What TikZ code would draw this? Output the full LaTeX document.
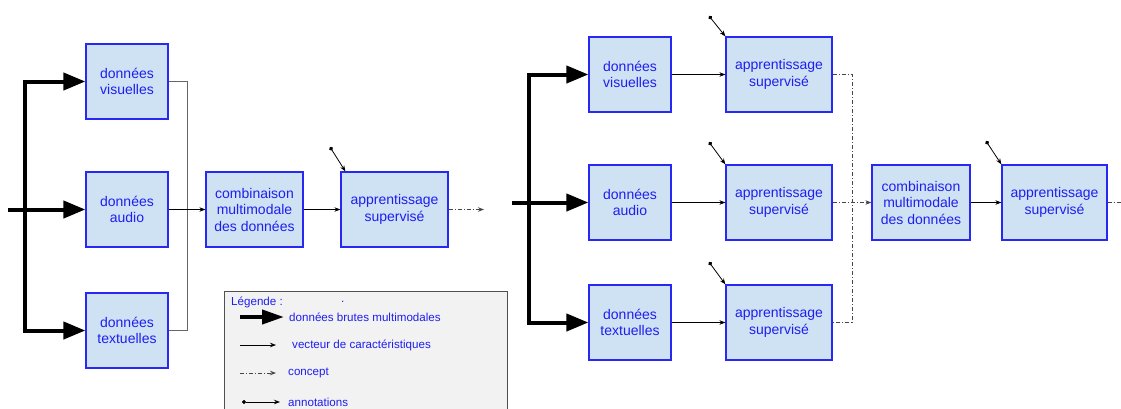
\documentclass[tikz,border=0pt]{standalone}
\usepackage{fontspec}
\setmainfont{Liberation Sans}
\usetikzlibrary{arrows.meta,calc}
\definecolor{boxfill}{RGB}{207,226,243}
\definecolor{boxline}{RGB}{40,40,245}
\definecolor{txtblue}{RGB}{30,30,240}
\definecolor{legfill}{RGB}{242,242,242}
\definecolor{legline}{RGB}{80,80,80}
\definecolor{conc}{RGB}{70,70,70}
\begin{document}
\begin{tikzpicture}[x=1pt,y=-1pt,
  blk/.style={draw=boxline,fill=boxfill,line width=1.2pt,text=txtblue,align=center,
    font=\fontsize{14}{16.5}\selectfont,minimum height=75pt,inner sep=0pt},
  big/.style={line width=4pt,-{Triangle[length=22pt,width=17pt]}},
  vec/.style={line width=0.7pt,-{Stealth[length=6pt,width=4.5pt]}},
  plain/.style={line width=0.9pt,draw=black!60},
  concept/.style={line width=0.9pt,draw=conc,dash pattern=on 4pt off 2pt on 1pt off 2pt},
  conceptarr/.style={concept,-{Stealth[length=6pt,width=4.5pt]}},
  annot/.style={line width=0.8pt,{Circle[length=4pt]}-{Stealth[length=6pt,width=4.5pt]}},
  leg/.style={anchor=west,text=txtblue,font=\fontsize{11.6}{13}\selectfont,inner sep=0pt}]
\useasboundingbox (0,0) rectangle (1121,408);

% ---------- left diagram ----------
\node[blk,minimum width=82pt] (LV) at (127,81.5) {données\\visuelles};
\node[blk,minimum width=82pt] (LA) at (127,209.5) {données\\audio};
\node[blk,minimum width=82pt] (LT) at (127,330.5) {données\\textuelles};
\node[blk,minimum width=97pt] (LC) at (254.5,209.5) {combinaison\\multimodale\\des données};
\node[blk,minimum width=107pt] (LS) at (394.5,209.5) {apprentissage\\supervisé};

\coordinate (inL) at (8,209.5);
\coordinate (jL) at (25,209.5);
\draw[big] (inL) -- (LA.west);
\draw[big] (jL) |- (LV.west);
\draw[big] (jL) |- (LT.west);

\coordinate (busL) at (187,81.5);
\draw[plain] (LV.east) -- (busL) |- (LT.east);
\draw[vec] (LA.east) -- (LC.west);
\draw[vec] (LC.east) -- (LS.west);
\coordinate (outL) at (484,209.5);
\draw[conceptarr] (LS.east) -- (outL);
\coordinate (aL) at (330,147);
\draw[annot] (aL) -- ($(LS.north west)+(5,0)$);

% ---------- right diagram ----------
\node[blk,minimum width=82pt] (RV) at (630,74.5) {données\\visuelles};
\node[blk,minimum width=82pt] (RA) at (630,202.5) {données\\audio};
\node[blk,minimum width=82pt] (RT) at (630,322.5) {données\\textuelles};
\node[blk,minimum width=106pt] (RS1) at (779,74.5) {apprentissage\\supervisé};
\node[blk,minimum width=106pt] (RS2) at (779,202.5) {apprentissage\\supervisé};
\node[blk,minimum width=106pt] (RS3) at (779,322.5) {apprentissage\\supervisé};
\node[blk,minimum width=98pt] (RC) at (921,202.5) {combinaison\\multimodale\\des données};
\node[blk,minimum width=105pt] (RS) at (1054.5,202.5) {apprentissage\\supervisé};

\coordinate (inR) at (512,202.5);
\coordinate (jR) at (529,202.5);
\draw[big] (inR) -- (RA.west);
\draw[big] (jR) |- (RV.west);
\draw[big] (jR) |- (RT.west);

\draw[vec] (RV.east) -- (RS1.west);
\draw[vec] (RA.east) -- (RS2.west);
\draw[vec] (RT.east) -- (RS3.west);

\coordinate (busR) at (852,74.5);
\draw[concept] (RS1.east) -- (busR) |- (RS3.east);
\draw[conceptarr] (RS2.east) -- (RC.west);
\draw[vec] (RC.east) -- (RS.west);
\coordinate (outR) at (1125,202.5);
\draw[concept] (RS.east) -- (outR);

\coordinate (a1) at (709,16);
\coordinate (a2) at (709,142);
\coordinate (a3) at (709,262);
\coordinate (a4) at (986,141);
\draw[annot] (a1) -- (RS1.north west);
\draw[annot] (a2) -- (RS2.north west);
\draw[annot] (a3) -- (RS3.north west);
\draw[annot] (a4) -- (RS.north west);

% ---------- legend ----------
\node[draw=legline,fill=legfill,line width=0.9pt,minimum width=283pt,minimum height=130pt,
  anchor=north west,inner sep=0pt] (LG) at (224,291) {};
\node[leg] (lgt) at (231,302) {Légende :};
\node[leg] (lgdot) at (341,302) {.};
\coordinate (l1a) at (240,317); \coordinate (l1b) at (284,317);
\draw[line width=4pt,-{Triangle[length=22pt,width=14pt]}] (l1a) -- (l1b);
\node[leg] (t1) at (289,317) {données brutes multimodales};
\coordinate (l2a) at (240,345); \coordinate (l2b) at (276,345);
\draw[vec] (l2a) -- (l2b);
\node[leg] (t2) at (292,345) {vecteur de caractéristiques};
\coordinate (l3a) at (240,373); \coordinate (l3b) at (276,373);
\draw[conceptarr] (l3a) -- (l3b);
\node[leg] (t3) at (288,373) {concept};
\coordinate (l4a) at (242,402); \coordinate (l4b) at (280,402);
\draw[annot] (l4a) -- (l4b);
\node[leg] (t4) at (288,402) {annotations};
\end{tikzpicture}
\end{document}
